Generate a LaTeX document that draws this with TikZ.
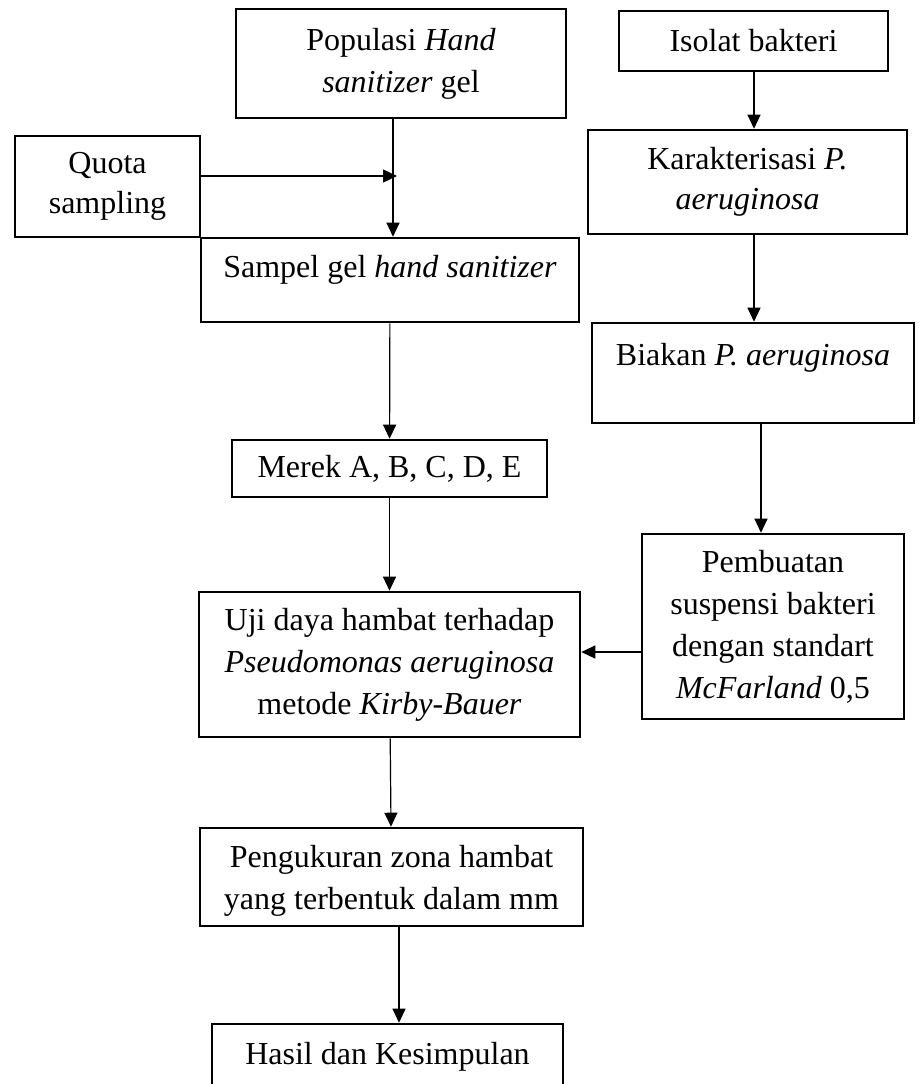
\documentclass[tikz,border=0pt]{standalone}
\usepackage{fontspec}
\setmainfont{Liberation Serif}
\usetikzlibrary{arrows.meta,positioning}

\begin{document}
\begin{tikzpicture}[
		x=0.5pt, y=-0.5pt,
		every node/.style={font=\fontsize{16}{21}\selectfont},
		% Stijlen
		box/.style={draw=black, line width=1.3pt, align=center, inner sep=0pt},
		arr/.style={-{Triangle[length=7pt,width=6.5pt]}, line width=0.6pt}
	]

	% --- Kader ---
	\clip (0,0) rectangle (919,1084);

	% --- Linkerkolom ---
	\node[box, minimum width=165pt, minimum height=54.5pt] (populasi) at (401,63.5)
		{Populasi \textit{Hand}\\\textit{sanitizer} gel};
	\node[box, minimum width=92.5pt, minimum height=50.5pt, font=\fontsize{16}{20}\selectfont] (quota) at (107.5,186.5)
		{Quota\\sampling};
	\node[box, minimum width=189pt, minimum height=42pt, text depth=13.5pt] (sampel) at (390,280)
		{Sampel gel \textit{hand sanitizer}};
	\node[box, minimum width=157.5pt, minimum height=28.5pt] (merek) at (389.5,468.5) {Merek A, B, C, D, E};
	\node[box, minimum width=190.5pt, minimum height=72.5pt] (uji) at (389.5,664.5)
		{Uji daya hambat terhadap\\\textit{Pseudomonas aeruginosa}\\metode \textit{Kirby-Bauer}};
	\node[box, minimum width=191.5pt, minimum height=49pt, text depth=-1pt] (pengukuran) at (391.5,877)
		{Pengukuran zona hambat\\yang terbentuk dalam mm};
	\node[box, minimum width=175.5pt, minimum height=33pt] (hasil) at (387.5,1057) {Hasil dan Kesimpulan};

	% --- Rechterkolom ---
	\node[box, minimum width=134.5pt, minimum height=30pt] (isolat) at (753.5,41) {Isolat bakteri};
	\node[box, minimum width=159.5pt, minimum height=52pt, font=\fontsize{16}{20}\selectfont] (karakter) at (747.5,182)
		{Karakterisasi \textit{P.}\\\textit{aeruginosa}};
	\node[box, minimum width=161pt, minimum height=50pt, text depth=18.5pt] (biakan) at (753,373)
		{Biakan \textit{P. aeruginosa}};
	\node[box, minimum width=131pt, minimum height=92.5pt] (pembuatan) at (773,626.5)
		{Pembuatan\\suspensi bakteri\\dengan standart\\\textit{McFarland} 0,5};

	% --- Hulppunten ---
	\coordinate (xP) at (393,0);
	\coordinate (xR) at (754,0);
	\coordinate (xB) at (761,0);
	\coordinate (xH) at (399,0);
	\coordinate (yS) at (0,652);
	\coordinate (qjoin) at (397,176);

	% --- Pijlen ---
	\draw[arr] (populasi.south -| xP) -- (sampel.north -| xP);
	\draw[arr] (quota.east |- qjoin) -- (qjoin);
	\draw[arr] (sampel) -- (merek);
	\draw[arr] (merek) -- (uji);
	\draw[arr] (uji) -- (pengukuran);
	\draw[arr] (pengukuran.south -| xH) -- (hasil.north -| xH);
	\draw[arr] (isolat.south -| xR) -- (karakter.north -| xR);
	\draw[arr] (karakter.south -| xR) -- (biakan.north -| xR);
	\draw[arr] (biakan.south -| xB) -- (pembuatan.north -| xB);
	\draw[arr] (pembuatan.west |- yS) -- (uji.east |- yS);

\end{tikzpicture}
\end{document}
